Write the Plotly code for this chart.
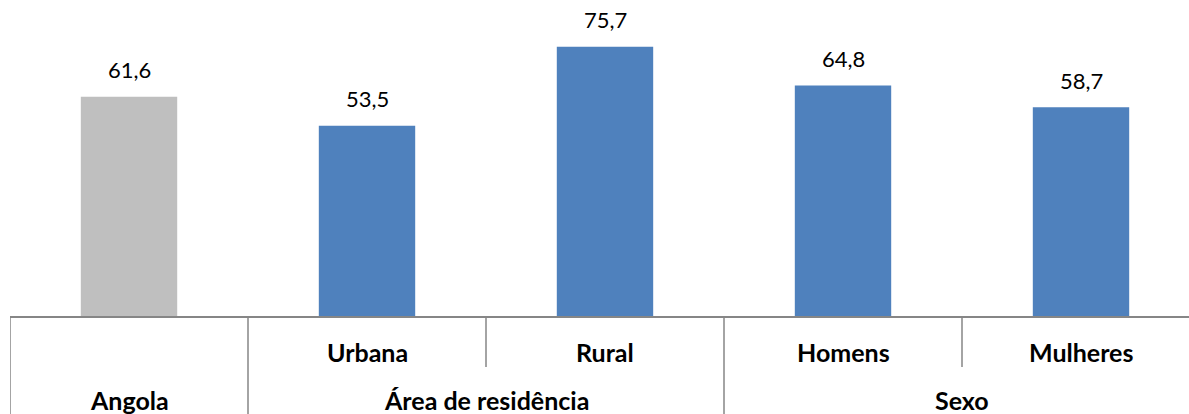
import plotly.graph_objects as go

categories = ["Angola", "Urbana", "Rural", "Homens", "Mulheres"]
values = [61.6, 53.5, 75.7, 64.8, 58.7]
value_labels = ["61,6", "53,5", "75,7", "64,8", "58,7"]
groups = ["Angola", "Área de residência", "Área de residência", "Sexo", "Sexo"]
colors = ["#BFBFBF", "#4F81BD", "#4F81BD", "#4F81BD", "#4F81BD"]

W, H = 1189, 414
L, T, B = 10, 0, 98
plot_h = H - T - B
axis_color = "#868686"
font_family = "Lato, Carlito, Calibri, sans-serif"

xs = list(range(len(categories)))

fig = go.Figure()
fig.add_trace(go.Bar(
    x=xs, y=values, width=0.405,
    marker=dict(color=colors, line=dict(width=0)),
    hoverinfo="skip",
))

annotations = []
for x, v, lab in zip(xs, values, value_labels):
    annotations.append(dict(x=x, y=v, xref="x", yref="y", text=lab, showarrow=False,
                            yshift=27, yanchor="middle",
                            font=dict(family=font_family, size=22, color="#000000")))

def py(p):
    return -(p - plot_h) / plot_h

# second-level labels (subcategories)
for x, c, g in zip(xs, categories, groups):
    if c != g:
        annotations.append(dict(x=x, y=py(352), xref="x", yref="paper", text="<b>%s</b>" % c,
                                showarrow=False, yanchor="middle",
                                font=dict(family=font_family, size=25, color="#000000")))

# group labels
seen = []
for g in groups:
    if g in seen:
        continue
    seen.append(g)
    idx = [i for i, gg in enumerate(groups) if gg == g]
    cx = (idx[0] + idx[-1]) / 2
    annotations.append(dict(x=cx, y=py(400), xref="x", yref="paper", text="<b>%s</b>" % g,
                            showarrow=False, yanchor="middle",
                            font=dict(family=font_family, size=25, color="#000000")))

shapes = []
for i in range(len(categories)):
    xb = i - 0.5
    full = i == 0 or groups[i] != groups[i - 1]
    y1 = py(H) if full else py(367)
    shapes.append(dict(type="line", xref="x", yref="paper", x0=xb, x1=xb, y0=0, y1=y1,
                       line=dict(color=axis_color, width=1.5)))

scale = 3.558
y_top = plot_h / scale
span = (W - L) / 238.0

fig.update_layout(
    width=W, height=H,
    margin=dict(l=L, r=0, t=T, b=B, pad=0),
    paper_bgcolor="white", plot_bgcolor="white",
    showlegend=False,
    annotations=annotations,
    shapes=shapes,
    bargap=0.6,
    xaxis=dict(range=[-0.5, -0.5 + span], showticklabels=False, showgrid=False, zeroline=False,
               showline=True, linecolor=axis_color, linewidth=1.5, ticks=""),
    yaxis=dict(range=[0, y_top], visible=False, showgrid=False, zeroline=False),
)

fig.write_html("out.html",
               config={"displayModeBar": False},
               post_script="document.body.style.margin='0';document.body.style.overflow='hidden';")
